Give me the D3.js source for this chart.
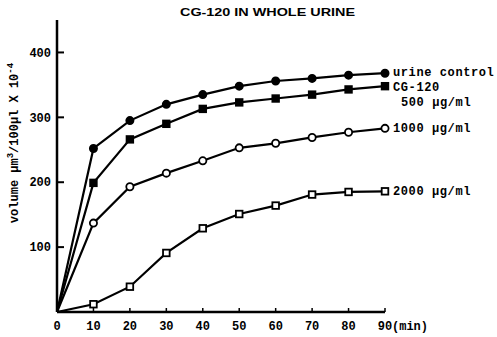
<!DOCTYPE html>
<html>
<head>
<meta charset="utf-8">
<script src="https://cdn.jsdelivr.net/npm/d3@7"></script>
<style>
  body { margin: 0; background: #fff; }
  text { font-family: "Liberation Mono", "DejaVu Sans Mono", monospace; font-weight: bold; fill: #000; }
</style>
</head>
<body>
<div id="chart"></div>
<script>
// data
var minutes = [0, 10, 20, 30, 40, 50, 60, 70, 80, 90];
var urineControl = [0, 252, 295, 320, 335, 348, 356, 360, 365, 368];
var cg500 = [0, 199, 266, 290, 313, 323, 329, 335, 343, 348];
var cg1000 = [0, 137, 193, 214, 233, 253, 260, 269, 277, 283];
var cg2000 = [0, 12, 39, 91, 129, 151, 164, 181, 185, 186];
var yTicks = [100, 200, 300, 400];
var xTicks = [0, 10, 20, 30, 40, 50, 60, 70, 80, 90];

var W = 497, H = 337;
var margin = {top: 20, right: 112, bottom: 25, left: 57},
    width = W - margin.left - margin.right,
    height = H - margin.top - margin.bottom;

var svg = d3.select("#chart").append("svg")
    .attr("width", W)
    .attr("height", H)
    .append("g")
    .attr("transform", "translate(" + margin.left + "," + margin.top + ")");

var x = d3.scaleLinear().domain([0, 90]).range([0, width]);
var y = d3.scaleLinear().domain([0, 450]).range([height, 0]);

// axes
svg.append("line")
    .attr("x1", 0).attr("x2", 0)
    .attr("y1", 0).attr("y2", height)
    .attr("stroke", "#000").attr("stroke-width", 2.5);
svg.append("line")
    .attr("x1", 0).attr("x2", x(90))
    .attr("y1", height).attr("y2", height)
    .attr("stroke", "#000").attr("stroke-width", 2.5);

// y ticks (inward)
svg.selectAll(".ytick")
    .data(yTicks)
    .enter().append("line")
    .attr("x1", 0).attr("x2", 7)
    .attr("y1", function(d) { return y(d); })
    .attr("y2", function(d) { return y(d); })
    .attr("stroke", "#000").attr("stroke-width", 2);
svg.selectAll(".ylab")
    .data(yTicks)
    .enter().append("text")
    .attr("x", -6)
    .attr("y", function(d) { return y(d); })
    .attr("dy", "0.35em")
    .attr("text-anchor", "end")
    .style("font-size", "12px")
    .text(function(d) { return d; });

// x ticks (upward)
svg.selectAll(".xtick")
    .data(xTicks.slice(1))
    .enter().append("line")
    .attr("x1", function(d) { return x(d); })
    .attr("x2", function(d) { return x(d); })
    .attr("y1", height).attr("y2", height - 4)
    .attr("stroke", "#000").attr("stroke-width", 1.5);
svg.selectAll(".xlab")
    .data(xTicks)
    .enter().append("text")
    .attr("x", function(d) { return x(d); })
    .attr("y", height + 18)
    .attr("text-anchor", "middle")
    .style("font-size", "12px")
    .text(function(d) { return d; });
svg.append("text")
    .attr("x", x(90) + 7)
    .attr("y", height + 18)
    .style("font-size", "12px")
    .text("(min)");

// title
svg.append("text")
    .attr("x", 180 - margin.left)
    .attr("y", 0 - 4)
    .attr("textLength", 175)
    .attr("lengthAdjust", "spacingAndGlyphs")
    .style("font-family", "'Liberation Sans', Arial, sans-serif")
    .style("font-size", "11px")
    .text("CG-120 IN WHOLE URINE");

// y axis label
svg.append("text")
    .attr("transform", "translate(" + (18 - margin.left) + "," + (143 - margin.top) + ") rotate(-90)")
    .attr("text-anchor", "middle")
    .style("font-size", "12px")
    .html("volume  &#956;m<tspan dy='-5' font-size='9px'>3</tspan><tspan dy='5'>/100&#956;l X 10</tspan><tspan dy='-5' font-size='9px'>-4</tspan>");

var line = d3.line()
    .x(function(d, i) { return x(minutes[i]); })
    .y(function(d) { return y(d); });

var series = [
  {values: urineControl, marker: "circle", fill: "#000"},
  {values: cg500, marker: "square", fill: "#000"},
  {values: cg1000, marker: "circle", fill: "#fff"},
  {values: cg2000, marker: "square", fill: "#fff"}
];

series.forEach(function(s) {
  svg.append("path")
      .datum(s.values)
      .attr("d", line)
      .attr("fill", "none")
      .attr("stroke", "#000")
      .attr("stroke-width", 2.2);

  var pts = s.values.slice(1);
  if (s.marker === "circle") {
    svg.selectAll(null)
        .data(pts)
        .enter().append("circle")
        .attr("cx", function(d, i) { return x(minutes[i + 1]); })
        .attr("cy", function(d) { return y(d); })
        .attr("r", 3.6)
        .attr("fill", s.fill)
        .attr("stroke", "#000")
        .attr("stroke-width", 1.8);
  } else {
    svg.selectAll(null)
        .data(pts)
        .enter().append("rect")
        .attr("x", function(d, i) { return x(minutes[i + 1]) - 3.3; })
        .attr("y", function(d) { return y(d) - 3.3; })
        .attr("width", 6.6)
        .attr("height", 6.6)
        .attr("fill", s.fill)
        .attr("stroke", "#000")
        .attr("stroke-width", 1.8);
  }
});

// series labels at right end
var lx = x(90) + 8;
var labels = [
  {text: "urine control", y: y(368) + 3, dx: 0},
  {text: "CG-120", y: y(348) + 5, dx: 0},
  {text: "500  \u03BCg/ml", y: y(348) + 20, dx: 8},
  {text: "1000  \u03BCg/ml", y: y(283) + 4, dx: 0},
  {text: "2000  \u03BCg/ml", y: y(186) + 4, dx: 0}
];
svg.selectAll(".slab")
    .data(labels)
    .enter().append("text")
    .attr("x", function(d) { return lx + d.dx; })
    .attr("y", function(d) { return d.y; })
    .style("font-size", "12px")
    .style("letter-spacing", "0.6px")
    .text(function(d) { return d.text; });
</script>
</body>
</html>
